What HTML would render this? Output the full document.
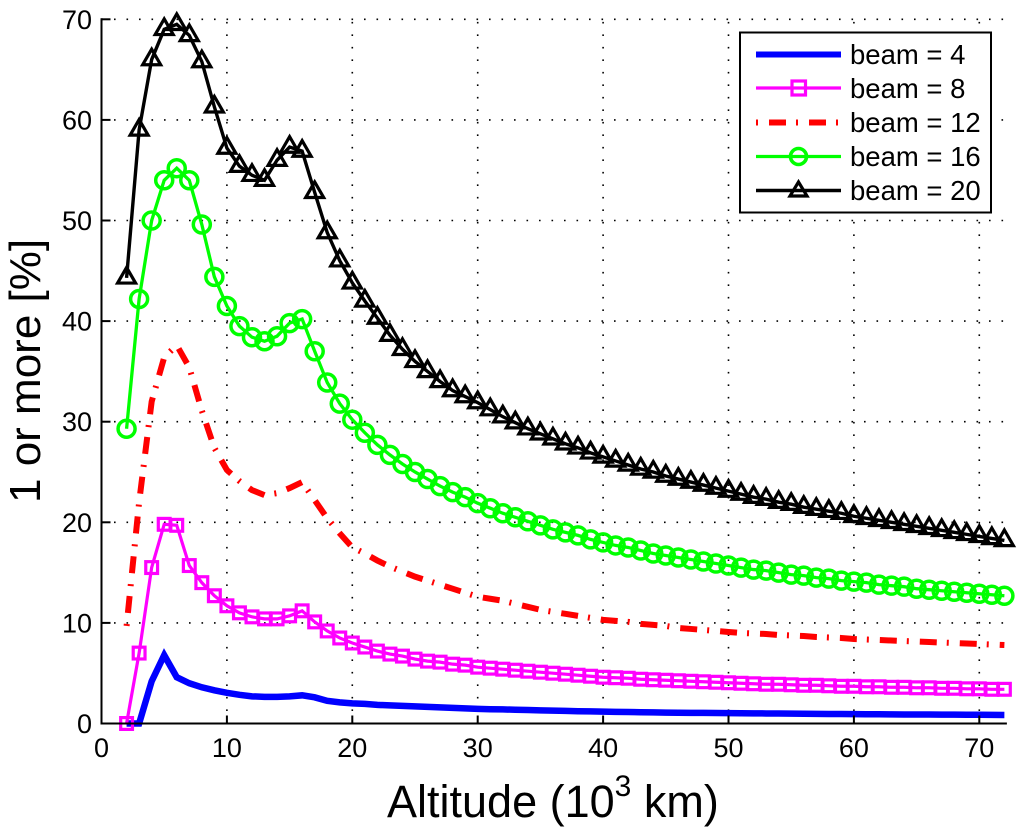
<!DOCTYPE html>
<html>
<head>
<meta charset="utf-8">
<title>1 or more vs altitude</title>
<style>
html,body{margin:0;padding:0;background:#fff;}
svg{display:block;}
text{font-family:"Liberation Sans",Arial,sans-serif;fill:#000;}
</style>
</head>
<body>
<svg id="chart" xmlns="http://www.w3.org/2000/svg" width="1024" height="833" viewBox="0 0 1024 833">
<rect x="0" y="0" width="1024" height="833" fill="#fff"/>
<g id="grid"></g>
<g id="series"></g>
<g id="axes"></g>
<text x="387" y="817" font-size="45">Altitude (10<tspan font-size="30" dy="-21">3</tspan><tspan dy="21"> km)</tspan></text>
<text transform="translate(40,503) rotate(-90)" font-size="44">1 or more [%]</text>
<g>
<rect x="740" y="32.5" width="251" height="180" fill="#fff" stroke="#000" stroke-width="2"/>
<g>
<line x1="756" x2="841" y1="54.5" y2="54.5" stroke="#0000ff" stroke-width="6"/>
<text x="850" y="64" font-size="27.5">beam = 4</text>
</g>
<g>
<line x1="756" x2="841" y1="88" y2="88" stroke="#ff00ff" stroke-width="3.2"/>
<rect x="792" y="81" width="13.5" height="14" fill="none" stroke="#ff00ff" stroke-width="3.2"/>
<text x="850" y="98" font-size="27.5">beam = 8</text>
</g>
<g>
<line x1="756" x2="841" y1="122.5" y2="122.5" stroke="#ff0000" stroke-width="6" stroke-dasharray="2 11 17 10"/>
<text x="850" y="132" font-size="27.5">beam = 12</text>
</g>
<g>
<line x1="756" x2="841" y1="156.5" y2="156.5" stroke="#00ff00" stroke-width="3.3"/>
<circle cx="798.5" cy="156.5" r="8" fill="none" stroke="#00ff00" stroke-width="3.6"/>
<text x="850" y="166" font-size="27.5">beam = 16</text>
</g>
<g>
<line x1="756" x2="841" y1="190.5" y2="190.5" stroke="#000" stroke-width="3.6"/>
<polygon points="798.5,182 807,196 790,196" fill="none" stroke="#000" stroke-width="3.2"/>
<text x="850" y="200" font-size="27.5">beam = 20</text>
</g>
</g>
</svg>
<script>
const altitudes = [2,3,4,5,6,7,8,9,10,11,12,13,14,15,16,17,18,19,20,21,22,23,24,25,26,27,28,29,30,31,32,33,34,35,36,37,38,39,40,41,42,43,44,45,46,47,48,49,50,51,52,53,54,55,56,57,58,59,60,61,62,63,64,65,66,67,68,69,70,71,72];
const beam4 = [0,0,4.2,6.8,4.6,4,3.6,3.3,3.05,2.85,2.7,2.65,2.65,2.7,2.8,2.6,2.25,2.1,2,1.95,1.85,1.8,1.75,1.7,1.65,1.6,1.55,1.5,1.45,1.42,1.4,1.37,1.34,1.31,1.28,1.25,1.22,1.2,1.18,1.16,1.14,1.12,1.1,1.08,1.07,1.06,1.05,1.04,1.03,1.02,1.01,1,0.99,0.98,0.97,0.96,0.95,0.94,0.93,0.92,0.92,0.91,0.9,0.9,0.89,0.88,0.88,0.87,0.87,0.86,0.85];
const beam8 = [0,7,15.5,19.8,19.7,15.7,14,12.7,11.7,11,10.6,10.4,10.4,10.7,11.2,10.1,9.2,8.5,8,7.6,7.2,6.9,6.7,6.4,6.2,6.1,5.9,5.8,5.6,5.5,5.4,5.3,5.2,5.1,5,4.9,4.8,4.7,4.6,4.55,4.5,4.4,4.35,4.3,4.25,4.2,4.15,4.1,4.05,4,3.95,3.9,3.9,3.85,3.8,3.8,3.75,3.7,3.7,3.65,3.65,3.6,3.6,3.55,3.55,3.5,3.5,3.45,3.45,3.4,3.4];
const beam12 = [9.7,22,32,36.4,37.6,35.4,31.1,27.4,25.2,24.1,23.2,22.7,22.9,23.4,24,22.2,20.4,18.9,17.5,16.9,16.2,15.6,15.1,14.6,14.2,13.8,13.4,13,12.6,12.4,12.2,11.9,11.6,11.3,11.1,10.9,10.7,10.5,10.3,10.2,10.1,9.9,9.8,9.7,9.5,9.4,9.3,9.2,9.1,9,8.95,8.9,8.8,8.75,8.7,8.6,8.55,8.5,8.4,8.35,8.3,8.25,8.2,8.15,8.1,8.05,8,7.95,7.9,7.85,7.8];
const beam16 = [29.3,42.2,50,54,55.2,54,49.6,44.4,41.5,39.5,38.4,38,38.5,39.8,40.2,37,33.9,31.8,30.2,28.9,27.7,26.7,25.8,25,24.3,23.6,23,22.5,21.9,21.4,20.9,20.5,20.1,19.7,19.3,19,18.7,18.3,18,17.7,17.5,17.2,16.9,16.7,16.5,16.3,16.1,15.9,15.7,15.5,15.3,15.2,15,14.8,14.7,14.5,14.4,14.2,14.1,14,13.8,13.7,13.6,13.4,13.3,13.2,13.1,13,12.9,12.8,12.7];
const beam20 = [44.3,59,66,69,69.5,68.4,65.8,61.3,57.2,55.4,54.5,54,56,57.3,56.9,52.8,48.8,46,43.8,42,40.3,38.6,37.2,36,35,34,33.1,32.5,31.9,31.2,30.5,29.9,29.3,28.8,28.3,27.8,27.4,26.9,26.5,26.1,25.7,25.3,25,24.6,24.3,24,23.7,23.4,23.1,22.8,22.5,22.3,22,21.8,21.5,21.3,21.1,20.9,20.6,20.4,20.2,20,19.8,19.6,19.4,19.2,19,18.8,18.6,18.4,18.2];
const xTickValues = [0,10,20,30,40,50,60,70];
const yTickValues = [0,10,20,30,40,50,60,70];

const NS = 'http://www.w3.org/2000/svg';
const xScale = function (v) { return 101.5 + v * 12.54; };
const yScale = function (v) { return 723.5 - v * 10.06; };
const X_END = xScale(72.2);
const gridG = document.getElementById('grid');
const seriesG = document.getElementById('series');
const axesG = document.getElementById('axes');

function make(tag, attrs, parent) {
  const el = document.createElementNS(NS, tag);
  for (const k in attrs) el.setAttribute(k, attrs[k]);
  parent.appendChild(el);
  return el;
}

xTickValues.forEach(function (t) {
  if (t !== 0) {
    const g = make('line', {x1: xScale(t), x2: xScale(t), y1: yScale(0), y2: yScale(70), stroke: '#000', 'stroke-width': 1.6, 'stroke-dasharray': '1.6 10.9'}, gridG);
    
    
  }
  const tick = make('line', {x1: xScale(t), x2: xScale(t), y1: yScale(0), y2: yScale(0) - 8, stroke: '#000', 'stroke-width': 2}, axesG);
  
  
  const label = make('text', {x: xScale(t), y: 757, 'font-size': 27, 'text-anchor': 'middle'}, axesG);
  
  
  label.textContent = t;
});

yTickValues.forEach(function (t) {
  if (t !== 0) {
    const g = make('line', {x1: xScale(0), x2: X_END, y1: yScale(t), y2: yScale(t), stroke: '#000', 'stroke-width': 1.6, 'stroke-dasharray': '1.6 10.9'}, gridG);
    
    
  }
  const tick = make('line', {x1: xScale(0), x2: xScale(0) + 9, y1: yScale(t), y2: yScale(t), stroke: '#000', 'stroke-width': 2}, axesG);
  
  
  const label = make('text', {x: 92, y: yScale(t) + 9.5, 'font-size': 27, 'text-anchor': 'end'}, axesG);
  
  
  label.textContent = t;
});

const xAxis = make('line', {x1: xScale(0) - 1, x2: X_END, y1: yScale(0), y2: yScale(0), stroke: '#000', 'stroke-width': 2}, axesG);


const yAxis = make('line', {x1: xScale(0), x2: xScale(0), y1: yScale(0), y2: yScale(70) - 1, stroke: '#000', 'stroke-width': 2}, axesG);



function pointsOf(values) {
  return values.map(function (v, i) { return xScale(altitudes[i]) + ',' + yScale(v); }).join(' ');
}

function drawLine(values, color, width, dash) {
  const attrs = {points: pointsOf(values), fill: 'none', stroke: color, 'stroke-width': width, 'stroke-linejoin': 'miter'};
  if (dash) attrs['stroke-dasharray'] = dash;
  return make('polyline', attrs, seriesG);
}

const line4 = drawLine(beam4, '#0000ff', 6.5);



const line8 = drawLine(beam8, '#ff00ff', 3.2);


beam8.forEach(function (v, i) {
  const cx = xScale(altitudes[i]), cy = yScale(v);
  const m = make('rect', {x: cx - 5.9, y: cy - 5.9, width: 11.8, height: 11.8, fill: 'none', stroke: '#ff00ff', 'stroke-width': 3.2}, seriesG);
  
  
});

const line12 = drawLine(beam12, '#ff0000', 6, '2 11 17 10');



const line16 = drawLine(beam16, '#00ff00', 3.3);


beam16.forEach(function (v, i) {
  const m = make('circle', {cx: xScale(altitudes[i]), cy: yScale(v), r: 8.5, fill: 'none', stroke: '#00ff00', 'stroke-width': 3.5}, seriesG);
  
  
});

const line20 = drawLine(beam20, '#000000', 3.4);


beam20.forEach(function (v, i) {
  const cx = xScale(altitudes[i]), cy = yScale(v);
  const pts = cx + ',' + (cy - 10.4) + ' ' + (cx + 9) + ',' + (cy + 5.2) + ' ' + (cx - 9) + ',' + (cy + 5.2);
  const m = make('polygon', {points: pts, fill: 'none', stroke: '#000', 'stroke-width': 3.2}, seriesG);
  
  
});
</script>
</body>
</html>
